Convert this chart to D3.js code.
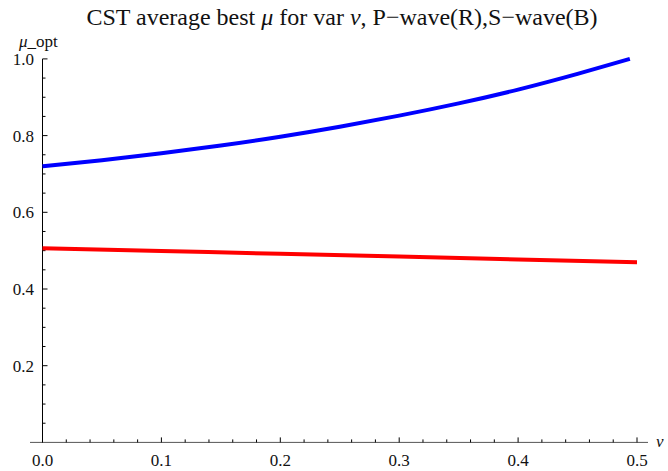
<!DOCTYPE html>
<html>
<head>
<meta charset="utf-8">
<script src="https://cdn.jsdelivr.net/npm/d3@7"></script>
<style>
body{margin:0;background:#fff;}
svg text{font-family:"Liberation Serif","Times New Roman",serif !important;fill:#111;}
</style>
</head>
<body>
<svg id="chart" width="668" height="471"></svg>
<script>
// Data
const nu = [0, 0.05, 0.1, 0.15, 0.2, 0.25, 0.3, 0.35, 0.4, 0.45, 0.494];
const sWaveBlue = [0.720, 0.736, 0.754, 0.774, 0.797, 0.823, 0.852, 0.884, 0.920, 0.961, 1.0];
const nuRed = [0, 0.1, 0.2, 0.3, 0.4, 0.5];
const pWaveRed = [0.506, 0.499, 0.492, 0.485, 0.477, 0.470];
const xTicks = [0, 0.1, 0.2, 0.3, 0.4, 0.5];
const yTicks = [0.2, 0.4, 0.6, 0.8, 1.0];

const svg = d3.select("#chart");
const x = d3.scaleLinear().domain([0, 0.5]).range([42.5, 637]);
const y = d3.scaleLinear().domain([0, 1]).range([442.4, 58.9]);

// x axis line
svg.append("line").attr("x1", 30).attr("x2", 648).attr("y1", y(0)).attr("y2", y(0))
  .attr("stroke", "#555").attr("stroke-width", 1);
// y axis line
svg.append("line").attr("x1", x(0)).attr("x2", x(0)).attr("y1", y(0)).attr("y2", y(1))
  .attr("stroke", "#000").attr("stroke-width", 1);

// x ticks
const xMinor = d3.range(0, 0.5001, 0.02);
svg.selectAll(".xmin").data(xMinor).enter().append("line")
  .attr("x1", d => x(d)).attr("x2", d => x(d))
  .attr("y1", y(0)).attr("y2", d => y(0) - (Math.abs(d*10 - Math.round(d*10)) < 1e-6 ? 5 : 3))
  .attr("stroke", "#000").attr("stroke-width", 1);
svg.selectAll(".xlab").data(xTicks).enter().append("text")
  .attr("x", d => x(d)).attr("y", 466).attr("text-anchor", "middle")
  .style("font-size", "17px").text(d => d3.format(".1f")(d));

// y ticks
const yMinor = d3.range(0.05, 1.0001, 0.05);
svg.selectAll(".ymin").data(yMinor).enter().append("line")
  .attr("y1", d => y(d)).attr("y2", d => y(d))
  .attr("x1", x(0)).attr("x2", d => x(0) + (Math.abs(d*5 - Math.round(d*5)) < 1e-6 ? 5 : 3))
  .attr("stroke", "#000").attr("stroke-width", 1);
svg.selectAll(".ylab").data(yTicks).enter().append("text")
  .attr("x", 34).attr("y", d => y(d) + 6).attr("text-anchor", "end")
  .style("font-size", "17px").text(d => d3.format(".1f")(d));

// curves
const line = d3.line().x(d => x(d[0])).y(d => y(d[1])).curve(d3.curveNatural);
svg.append("path").datum(nuRed.map((v, i) => [v, pWaveRed[i]]))
  .attr("d", line).attr("fill", "none").attr("stroke", "#ff0000").attr("stroke-width", 4);
svg.append("path").datum(nu.map((v, i) => [v, sWaveBlue[i]]))
  .attr("d", line).attr("fill", "none").attr("stroke", "#0000ff").attr("stroke-width", 4);

// title
const t = svg.append("text").attr("x", 342).attr("y", 25).attr("text-anchor", "middle")
  .style("font-size", "24px");
t.append("tspan").text("CST average best ");
t.append("tspan").style("font-style", "italic").text("μ");
t.append("tspan").text(" for var ");
t.append("tspan").style("font-style", "italic").text("ν");
t.append("tspan").text(", P−wave(R),S−wave(B)");

// axis labels
const yl = svg.append("text").attr("x", 19).attr("y", 47).style("font-size", "17px");
yl.append("tspan").style("font-style", "italic").text("μ");
yl.append("tspan").text("_opt");
svg.append("text").attr("x", 656).attr("y", 447).style("font-size", "17px")
  .style("font-style", "italic").text("ν");
</script>
</body>
</html>
